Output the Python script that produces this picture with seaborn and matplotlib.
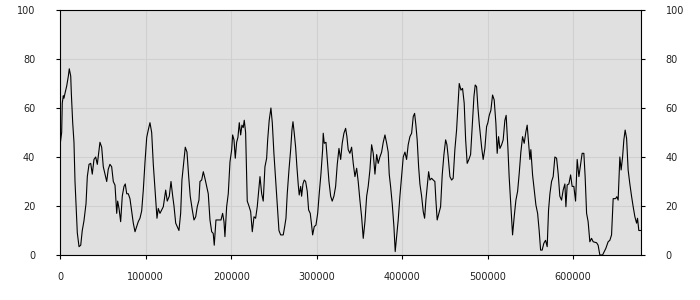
import matplotlib
matplotlib.use("Agg")
import matplotlib.pyplot as plt
import seaborn as sns
import pandas as pd

# x positions (in thousands) and values
x_thousands = [
    0, 1.6, 2.3, 3.5, 4.3, 5.5, 7.5, 9.4, 10.5, 12.2, 12.9, 14.5, 16.0, 17.2, 18.4, 19.9,
    21.9, 23.9, 25.7, 27.7, 30.1, 31.6, 33.6, 35.6, 37.4, 39.4, 41.4, 43.3, 45.3, 46.4,
    48.4, 50.3, 52.3, 54.3, 56.1, 58.1, 60.1, 62.0, 64.0, 66.0, 67.1, 68.7, 70.6, 72.5,
    74.5, 76.0, 77.7, 79.5, 81.5, 83.5, 85.4, 87.4, 89.4, 91.2, 93.2, 95.2, 97.1, 99.1,
    101.1, 102.9, 104.9, 106.9, 108.8, 110.4, 111.9, 113.1, 114.6, 116.6,
    120.5, 123.3, 125.1, 127.5, 129.5, 131.5, 133.0, 135.0, 136.8, 138.8, 140.8, 142.3,
    144.3, 146.2, 148.2, 150.2, 152.0, 154.4, 156.4, 158.4, 160.2, 162.2, 163.4, 165.4,
    167.3, 169.2, 171.2, 173.1, 175.1, 177.1, 178.9, 180.1, 182.1, 184.8, 188.0, 189.9,
    191.5, 192.6, 194.6, 196.5, 198.5, 200.5, 201.6, 203.2, 204.7, 206.3, 207.8, 209.4,
    211.0, 212.5, 214.0, 215.2, 216.8, 218.7, 220.7, 222.7, 224.6, 226.6, 228.5, 230.4,
    232.0, 233.6, 235.6, 237.4, 239.4, 241.4, 242.6, 244.4, 246.4, 248.0, 249.9, 251.9,
    253.8, 255.8, 257.8, 260.8, 262.5, 264.0, 265.5, 267.5, 269.5, 271.0, 272.2, 273.7,
    275.3, 276.8, 278.4, 279.5, 281.2, 282.3, 283.9, 285.4, 287.0, 288.9, 290.5, 292.4,
    294.0, 295.2, 297.1, 299.1, 301.1, 302.9,
    304.9, 306.9, 307.6, 308.8, 310.8, 312.3, 314.3, 316.3, 318.1, 320.1, 322.1, 324.0,
    326.0, 328.0, 329.8, 331.8, 333.8, 335.3, 336.8, 338.8, 340.8, 342.7, 344.7, 346.7,
    348.5, 350.5, 352.5, 354.4, 356.4, 358.4, 360.2, 362.2, 364.2, 366.1, 368.1, 370.1,
    371.9, 373.9, 375.9, 377.8, 379.8, 381.8, 383.6, 384.8, 386.4, 388.3, 390.3, 391.8,
    393.5, 395.3, 397.3, 399.3, 401.2, 403.2, 405.1, 407.0, 409.0, 411.0, 412.9, 414.5,
    416.0, 417.5, 419.2, 420.7, 422.7, 424.6, 426.2, 427.7, 429.2, 430.9, 432.4, 434.4,
    436.3, 438.2, 439.4, 440.9, 442.9, 444.9, 446.8, 448.8, 450.8, 452.3, 453.8, 455.8,
    457.8, 459.6, 461.6, 463.6, 465.2, 466.7, 468.7, 470.6, 472.5, 474.2, 476.0, 478.0,
    480.0, 481.9, 483.9, 485.4, 487.0, 488.5, 490.1,
    492.9, 494.7, 496.7, 498.7, 500.2, 501.8, 503.7, 505.7, 507.6, 509.6, 511.1, 512.7,
    514.3, 516.3, 518.1, 520.1, 521.6, 523.6, 525.1, 527.1, 529.1, 531.0, 533.0, 535.0,
    536.8, 538.8, 540.8, 542.7, 544.7, 546.2, 548.2, 549.4, 550.5, 552.5, 554.4, 556.4,
    558.4, 560.2, 561.9, 563.7, 565.7, 567.7, 569.6, 571.2, 572.8, 574.7, 576.6, 578.6,
    580.6, 582.5, 584.4, 586.4, 588.3, 590.3, 591.5, 593.0, 595.0, 597.0, 598.8, 600.8,
    602.8, 604.7, 606.7, 608.7, 610.5, 612.5, 614.0, 615.7, 617.5, 619.5, 621.5, 623.4,
    627.4, 629.2, 631.2, 634.4, 636.3, 638.2, 640.9, 642.9, 644.9, 646.8, 649.6, 651.1,
    652.6, 654.6, 656.1, 657.8, 659.3, 660.8, 662.5, 664.3, 666.3, 668.3, 670.2, 672.2,
    674.2, 675.3, 676.8, 679.0,
]

values = [
    45.6, 50, 62, 65, 64, 66, 69, 73, 76, 73, 66, 54, 46, 30, 21, 9,
    3.4, 4, 10, 14, 21, 32, 37, 37.4, 33, 39, 40, 37, 43, 46,
    44, 36, 33, 30, 35, 37, 36, 30, 28.5, 17, 22, 19, 13.6, 24,
    28, 29, 25, 25, 23, 18, 13, 9.5, 11.6, 13.6, 15, 18, 26.5, 38,
    48, 51, 54, 50, 37, 29, 22, 15, 19, 17,
    19.7, 26.5, 22, 24, 30, 24, 20, 13, 11.6, 10, 17, 30.6,
    37.4, 44, 42, 32, 24, 18.4, 14.3, 15.6, 19.7, 22.4, 30, 30.6,
    34, 31.3, 28, 25, 14.3, 9.5, 8.8, 4, 14.3, 14.3, 14.3, 17,
    13.6, 7.5, 19.7, 25, 38, 43, 49, 47, 39.5, 46, 48, 54,
    49, 53, 52, 55, 50, 22, 20, 17.7, 9.5, 15.6, 15, 19.7,
    26, 32, 25, 22, 36, 39.5, 47, 55, 60, 54, 41.5, 30.6,
    19.7, 10, 8.2, 8.2, 11.6, 15, 25, 34.7, 43, 51, 54.4, 49.7,
    44, 36, 28.6, 24.5, 28, 24, 29, 30.6, 30, 26, 18.4, 17,
    12.2, 8.2, 11.6, 12.2, 17, 25,
    33, 43, 49.7, 45.6, 46, 39, 30, 24, 22, 24, 28, 37,
    43.5, 39, 45.6, 49.7, 51.7, 48.3, 43, 41.5, 44, 37.4, 32, 35.4,
    30, 22.4, 15.6, 6.8, 13.6, 24, 28, 34.7, 45, 41.5, 33, 41,
    37.4, 40, 42, 46, 49, 45.6, 42, 33, 28, 21, 11.6, 1.4,
    7.5, 14.3, 24, 32, 40, 42, 39, 45, 48.3, 49.7, 56.5, 57.8,
    53, 47, 36, 29, 24, 17.7, 15, 22.4, 28, 34, 30.6, 31.3,
    30.6, 30, 22.4, 14.3, 17, 19.7, 32.7, 41, 47, 45, 40, 32,
    30.6, 31.3, 43, 51, 60.5, 70, 67.3, 68, 62, 47, 37.4, 39,
    41, 52.4, 64.6, 69.4, 68.7, 60.5, 53.7,
    44, 39, 43.5, 52.4, 54, 57, 59, 65.3, 63.3, 53.7, 41.5, 48.3,
    43.5, 45, 47, 55, 57, 44, 32, 19.7, 8.2, 15.6, 22.4, 26,
    33, 42, 48.3, 45.6, 50.3, 53, 44, 39, 43, 32.7, 26.5, 20.4,
    17, 10, 2, 2, 4.8, 6, 3.4, 18.4, 25, 30, 32, 40,
    39.5, 33, 24, 22.4, 26.5, 29, 19.7, 28.6, 29, 32.7, 28, 28,
    22, 39, 32, 37, 41.5, 41.5, 32, 17, 13.6, 5.4, 6.8, 5.4,
    5, 4, 0, 0, 1.4, 2.7, 5.4, 6, 8.2, 23, 23, 23.8,
    22.4, 40, 34.7, 40, 47, 51, 47.6, 34.7, 29, 24, 19.7, 15.6,
    13, 15, 10, 10,
]

x_ticks = [0, 100000, 200000, 300000, 400000, 500000, 600000]
y_ticks = [0, 20, 40, 60, 80, 100]

df = pd.DataFrame({"x": [v * 1000 for v in x_thousands], "y": values})

sns.set_style("whitegrid", {
    "axes.facecolor": "#e0e0e0",
    "grid.color": "#d0d0d0",
    "axes.edgecolor": "black",
})
plt.rcParams["font.family"] = ["DejaVu Sans"]

fig = plt.figure(figsize=(7, 3), dpi=100)
fig.patch.set_facecolor("white")
ax = fig.add_axes([60.3 / 700, 45 / 300, (640.7 - 60.3) / 700, 245 / 300])

sns.lineplot(data=df, x="x", y="y", ax=ax, color="black", linewidth=0.8,
             estimator=None, sort=False)

ax.set_xlim(0, 679000)
ax.set_ylim(0, 100)
ax.set_xticks(x_ticks)
ax.set_xticklabels([str(t) for t in x_ticks])
ax.set_yticks(y_ticks)
ax.set_yticklabels([str(t) for t in y_ticks])
ax.set_xlabel("")
ax.set_ylabel("")
ax.grid(True, color="#d0d0d0", linewidth=0.8)
for s in ax.spines.values():
    s.set_color("black")
    s.set_linewidth(0.8)

ax.tick_params(axis="y", which="both", left=True, right=True, labelleft=True,
               labelright=True, length=3, width=0.8, color="black",
               labelsize=7, pad=15, labelcolor="#222222")
ax.tick_params(axis="x", which="both", bottom=True, length=3, width=0.8,
               color="black", labelsize=7, pad=9, labelcolor="#222222")

fig.savefig("out.png", dpi=100)
